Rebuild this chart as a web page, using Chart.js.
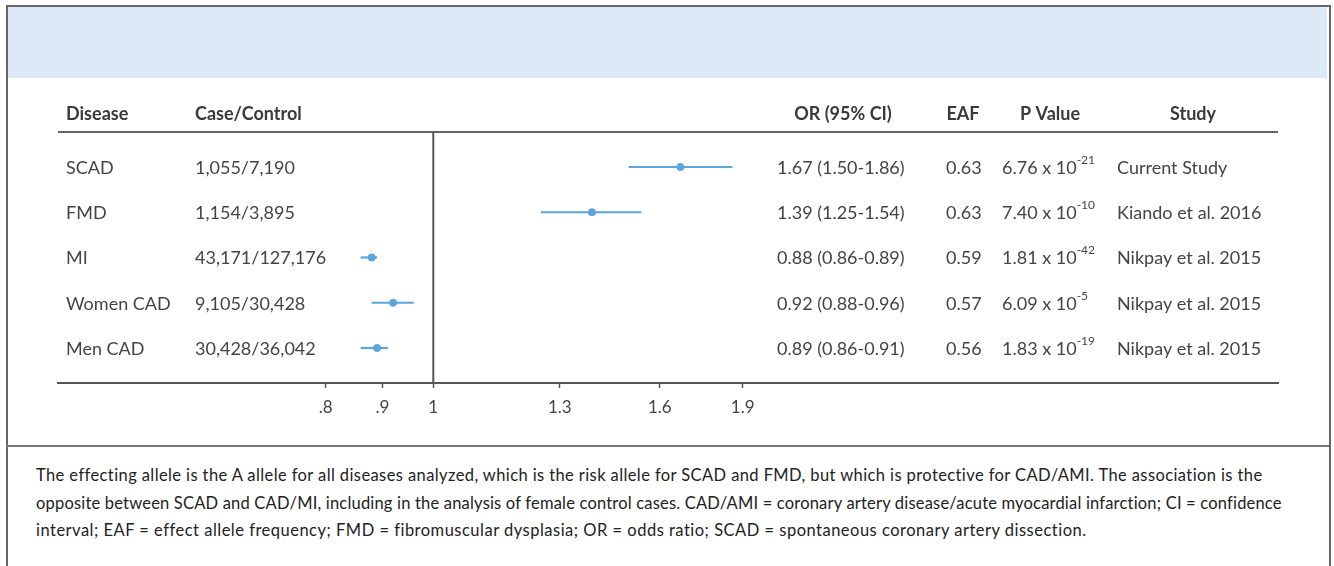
<!DOCTYPE html>
<html lang="en">
<head>
<meta charset="UTF-8">
<title>SCAD forest plot</title>
<script src="https://cdn.jsdelivr.net/npm/chart.js"></script>
<style>
  body { margin: 0; background: #fff; }
  #frame { position: absolute; left: 6px; top: 5px; width: 1321px; height: 600px; border: 2px solid #666; border-bottom: none; }
  #band { position: absolute; left: 8px; top: 7px; width: 1319px; height: 71px; background: #dee9f7; }
  #sep { position: absolute; left: 6px; top: 445px; width: 1323px; border-top: 2px solid #777; }
  #note { position: absolute; left: 36px; top: 462px; font: 16.5px Lato, sans-serif; color: #222; line-height: 27.5px; white-space: nowrap; }
  #note span { display: block; }
  #chart { position: absolute; left: 0; top: 0; }
</style>
</head>
<body>
<div id="frame"></div>
<div id="band"></div>
<div id="sep"></div>
<div id="note">
  <span style="letter-spacing: 0.4px">The effecting allele is the A allele for all diseases analyzed, which is the risk allele for SCAD and FMD, but which is protective for CAD/AMI. The association is the</span>
  <span style="letter-spacing: 0.19px">opposite between SCAD and CAD/MI, including in the analysis of female control cases. CAD/AMI = coronary artery disease/acute myocardial infarction; CI = confidence</span>
  <span style="letter-spacing: 0.49px">interval; EAF = effect allele frequency; FMD = fibromuscular dysplasia; OR = odds ratio; SCAD = spontaneous coronary artery dissection.</span>
</div>
<canvas id="chart" width="1334" height="566"></canvas>

<script>
// table / plot data
const diseases = ['SCAD', 'FMD', 'MI', 'Women CAD', 'Men CAD'];
const caseControl = ['1,055/7,190', '1,154/3,895', '43,171/127,176', '9,105/30,428', '30,428/36,042'];
const oddsRatio = [1.67, 1.39, 0.88, 0.92, 0.89];
const ciLow = [1.50, 1.25, 0.86, 0.88, 0.86];
const ciHigh = [1.86, 1.54, 0.89, 0.96, 0.91];
const eaf = ['0.63', '0.63', '0.59', '0.57', '0.56'];
const pMantissa = ['6.76', '7.40', '1.81', '6.09', '1.83'];
const pExponent = ['-21', '-10', '-42', '-5', '-19'];
const studies = ['Current Study', 'Kiando et al. 2016', 'Nikpay et al. 2015', 'Nikpay et al. 2015', 'Nikpay et al. 2015'];
const xTicks = [0.8, 0.9, 1, 1.3, 1.6, 1.9];

const blue = '#5aa5dc';
const textColor = '#444';
const font = 'Lato, sans-serif';

// one short line per row for the confidence interval
const ciSets = diseases.map((d, i) => ({
    type: 'line',
    data: [{x: ciLow[i], y: i}, {x: ciHigh[i], y: i}],
    borderColor: blue,
    borderWidth: 2.2,
    pointRadius: 0
}));

const tablePlugin = {
    id: 'tablePlugin',
    beforeDatasetsDraw(chart) {
        const {ctx, chartArea, scales} = chart;
        ctx.save();
        ctx.strokeStyle = '#666';
        ctx.lineWidth = 2;
        ctx.beginPath();
        ctx.moveTo(chartArea.left, chartArea.top);
        ctx.lineTo(chartArea.right, chartArea.top);
        ctx.stroke();
        // reference line at OR = 1
        const x1 = scales.x.getPixelForValue(1);
        ctx.strokeStyle = '#555';
        ctx.beginPath();
        ctx.moveTo(x1, chartArea.top);
        ctx.lineTo(x1, chartArea.bottom);
        ctx.stroke();
        ctx.restore();
    },
    afterDraw(chart) {
        const {ctx, scales} = chart;
        ctx.save();
        ctx.textBaseline = 'middle';
        // header row
        ctx.fillStyle = '#3a3a3a';
        ctx.font = 'bold 18px ' + font;
        const headY = 114;
        ctx.textAlign = 'left';
        ctx.fillText('Disease', 66, headY);
        ctx.fillText('Case/Control', 195, headY);
        ctx.textAlign = 'center';
        ctx.fillText('OR (95% CI)', 843, headY);
        ctx.fillText('EAF', 963, headY);
        ctx.fillText('P Value', 1050, headY);
        ctx.fillText('Study', 1193, headY);

        // body rows
        ctx.fillStyle = textColor;
        ctx.textAlign = 'left';
        diseases.forEach((d, i) => {
            const y = scales.y.getPixelForValue(i) + 1;
            ctx.font = '18px ' + font;
            ctx.fillText(d, 66, y);
            ctx.fillText(caseControl[i], 195, y);
            ctx.fillText(oddsRatio[i].toFixed(2) + ' (' + ciLow[i].toFixed(2) + '-' + ciHigh[i].toFixed(2) + ')', 777, y);
            ctx.fillText(eaf[i], 946, y);
            const p = pMantissa[i] + ' x 10';
            ctx.fillText(p, 1002, y);
            const w = ctx.measureText(p).width;
            ctx.fillText(studies[i], 1117, y);
            ctx.font = '12px ' + font;
            ctx.fillText(pExponent[i], 1002 + w, y - 8);
        });
        ctx.restore();
    }
};

new Chart(document.getElementById('chart'), {
    type: 'scatter',
    data: {
        datasets: [...ciSets, {
            type: 'scatter',
            data: oddsRatio.map((v, i) => ({x: v, y: i})),
            backgroundColor: blue,
            borderColor: blue,
            pointRadius: 3.6,
            pointHoverRadius: 3.6
        }]
    },
    options: {
        responsive: false,
        animation: false,
        devicePixelRatio: 1,
        layout: {padding: {left: 58, right: 56, top: 132, bottom: 153}},
        plugins: {legend: {display: false}, tooltip: {enabled: false}},
        scales: {
            x: {
                type: 'logarithmic',
                bounds: 'data',
                min: 0.459,
                max: 5.77,
                afterBuildTicks: s => { s.ticks = xTicks.map(v => ({value: v})); },
                afterFit: s => { s.height = 30; },
                ticks: {
                    autoSkip: false,
                    maxRotation: 0,
                    color: textColor,
                    font: {family: font, size: 17},
                    padding: 9,
                    callback: v => v < 1 ? String(v).replace('0.', '.') : String(v)
                },
                grid: {drawOnChartArea: false, drawTicks: true, tickLength: 5, tickColor: '#555', tickWidth: 1.5},
                border: {color: '#555', width: 2}
            },
            y: {
                type: 'linear',
                display: false,
                reverse: true,
                min: -0.773,
                max: 4.773
            }
        }
    },
    plugins: [tablePlugin]
});
</script>
</body>
</html>
